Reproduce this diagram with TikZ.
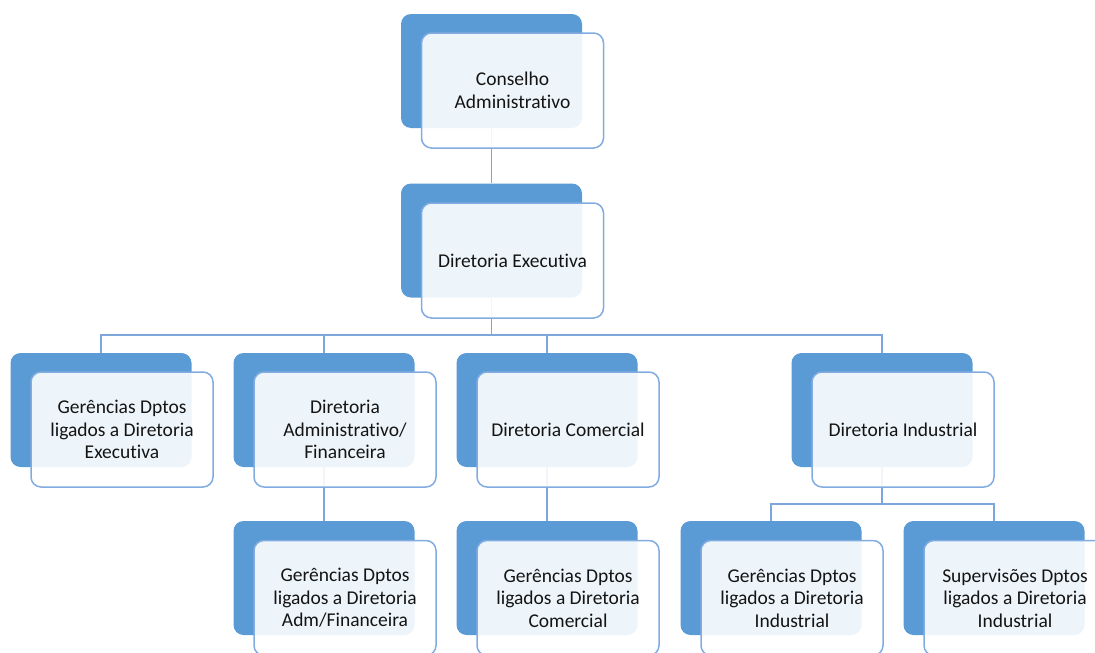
\documentclass[tikz,border=0pt]{standalone}
\usepackage{fontspec}
\setmainfont{Carlito}[Ligatures=NoCommon]
\usetikzlibrary{positioning,calc}
\definecolor{boxblue}{RGB}{91,155,213}
\definecolor{boxedge}{RGB}{130,172,225}
\definecolor{linkblue}{RGB}{125,166,218}
\tikzset{
  back/.style={rectangle, rounded corners=10pt, fill=boxblue, draw=none,
    minimum width=181pt, minimum height=114pt, inner sep=0pt},
  front/.style={rectangle, rounded corners=10pt, fill=white, fill opacity=0.9,
    text opacity=1, draw=boxedge, draw opacity=1, line width=1.5pt, minimum width=182pt,
    minimum height=115pt, align=center, inner sep=0pt,
    font=\fontsize{19.5}{22.5}\selectfont, text=black!92},
  link/.style={draw=linkblue, line width=1.4pt}
}
\begin{document}
\begin{tikzpicture}[x=1pt,y=-1pt]
  \useasboundingbox (0,0) rectangle (1095,653);
  \clip (0,0) rectangle (1095,653);
  %back boxes
  \node [back] (cons) at (491.5,71) {};
  \node [back] (dexe) at (491.5,240.5) {};
  \node [back] (gexe) at (101,410) {};
  \node [back] (dadm) at (324,410) {};
  \node [back] (dcom) at (547,410) {};
  \node [back] (dind) at (882,410) {};
  \node [back] (gadm) at (324,578) {};
  \node [back] (gcom) at (547,578) {};
  \node [back] (gind) at (771,578) {};
  \node [back] (sind) at (994,578) {};
  %connectors
  \coordinate (bus1) at (491.5,335);
  \coordinate (bus2) at (882,504);
  \draw [link] (cons.south) -- (dexe.north);
  \draw [link] (dexe.south) -- (bus1) -| (gexe.north);
  \draw [link] (bus1) -| (dadm.north);
  \draw [link] (bus1) -| (dcom.north);
  \draw [link] (bus1) -| (dind.north);
  \draw [link] (dadm.south) -- (gadm.north);
  \draw [link] (dcom.south) -- (gcom.north);
  \draw [link] (dind.south) -- (bus2) -| (gind.north);
  \draw [link] (bus2) -| (sind.north);
  %front boxes
  \node [front] (consf) at ($(cons)+(21,19.5)$) {Conselho\\Administrativo};
  \node [front] (dexef) at ($(dexe)+(21,20)$) {Diretoria Executiva};
  \node [front] (gexef) at ($(gexe)+(21,19.5)$) {Gerências Dptos\\ligados a Diretoria\\Executiva};
  \node [front] (dadmf) at ($(dadm)+(21,19.5)$) {Diretoria\\Administrativo/\\Financeira};
  \node [front] (dcomf) at ($(dcom)+(21,19.5)$) {Diretoria Comercial};
  \node [front] (dindf) at ($(dind)+(21,19.5)$) {Diretoria Industrial};
  \node [front] (gadmf) at ($(gadm)+(21,20)$) {Gerências Dptos\\ligados a Diretoria\\Adm/Financeira};
  \node [front] (gcomf) at ($(gcom)+(21,20)$) {Gerências Dptos\\ligados a Diretoria\\Comercial};
  \node [front] (gindf) at ($(gind)+(21,20)$) {Gerências Dptos\\ligados a Diretoria\\Industrial};
  \node [front] (sindf) at ($(sind)+(21,20)$) {Supervisões Dptos\\ligados a Diretoria\\Industrial};
\end{tikzpicture}
\end{document}
